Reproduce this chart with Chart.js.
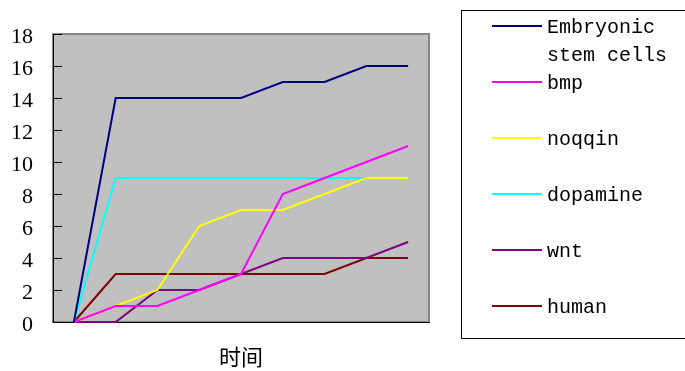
<!DOCTYPE html>
<html>
<head>
<meta charset="utf-8">
<script src="https://cdn.jsdelivr.net/npm/chart.js@4.4.1/dist/chart.umd.min.js"></script>
<style>
html,body{margin:0;padding:0;background:#fff;}
#wrap{width:685px;height:371px;position:relative;}
</style>
</head>
<body>
<div id="wrap"><canvas id="c" width="685" height="371"></canvas></div>
<script>
const categories = ['1','2','3','4','5','6','7','8','9'];
const embryonic = [0,14,14,14,14,15,15,16,16];
const bmp       = [0,1,1,2,3,8,9,10,11];
const noqqin    = [0,1,2,6,7,7,8,9,9];
const dopamine  = [0,9,9,9,9,9,9,9,9];
const wnt       = [0,0,2,2,3,4,4,4,5];
const human     = [0,3,3,3,3,3,3,4,4];
const seriesNames = ['Embryonic stem cells','bmp','noqqin','dopamine','wnt','human'];
const seriesColors = ['#000080','#FF00FF','#FFFF00','#00FFFF','#800080','#800000'];
const yTicks = [0,2,4,6,8,10,12,14,16,18];
const xTitle = '时间';

const seriesData = [embryonic,bmp,noqqin,dopamine,wnt,human];

const plotFrame = {
  id:'plotFrame',
  beforeDraw(chart){
    const {ctx, chartArea:a} = chart;
    ctx.save();
    ctx.fillStyle = '#C0C0C0';
    ctx.fillRect(a.left, a.top, a.right-a.left, a.bottom-a.top);
    ctx.strokeStyle = '#868686';
    ctx.lineWidth = 2;
    ctx.strokeRect(a.left, a.top, a.right-a.left, a.bottom-a.top);
    ctx.restore();
  },
  beforeDatasetsDraw(chart){
    const {ctx, chartArea:a, scales} = chart;
    const y = scales.y;
    ctx.save();
    ctx.strokeStyle = '#000';
    ctx.lineWidth = 1;
    y.ticks.forEach(t=>{
      const py = Math.round(y.getPixelForValue(t.value)) + 0.5;
      ctx.beginPath();
      ctx.moveTo(a.left, py);
      ctx.lineTo(a.left + 9, py);
      ctx.stroke();
    });
    ctx.restore();
  }
};

const customLegend = {
  id:'customLegend',
  afterDraw(chart){
    const ctx = chart.ctx;
    ctx.save();
    ctx.strokeStyle = '#000';
    ctx.lineWidth = 1;
    ctx.strokeRect(461.5, 10.5, 240, 328);
    ctx.font = '20px "Liberation Mono", monospace';
    ctx.textBaseline = 'middle';
    ctx.fillStyle = '#000';
    const maxW = 130;
    chart.data.datasets.forEach((ds,i)=>{
      const y0 = 26 + i*56;
      ctx.strokeStyle = ds.borderColor;
      ctx.lineWidth = 2;
      ctx.beginPath();
      ctx.moveTo(492, y0);
      ctx.lineTo(542, y0);
      ctx.stroke();
      const words = ds.label.split(' ');
      const lines = [];
      let cur = '';
      words.forEach(w=>{
        const test = cur ? cur + ' ' + w : w;
        if (ctx.measureText(test).width > maxW && cur) { lines.push(cur); cur = w; }
        else cur = test;
      });
      if (cur) lines.push(cur);
      lines.forEach((ln,j)=>{
        ctx.fillText(ln, 547, y0 + 2 + j*28);
      });
    });
    ctx.restore();
  }
};

new Chart(document.getElementById('c'), {
  type:'line',
  data:{
    labels: categories,
    datasets: seriesNames.map((n,i)=>({
      label:n,
      data:seriesData[i],
      borderColor:seriesColors[i],
      backgroundColor:seriesColors[i],
      borderWidth:2,
      pointRadius:0,
      tension:0,
      fill:false,
      clip:false
    }))
  },
  options:{
    responsive:false,
    animation:false,
    layout:{padding:{top:34,right:256,left:0,bottom:0}},
    plugins:{legend:{display:false},tooltip:{enabled:false}},
    scales:{
      x:{
        type:'category',
        offset:true,
        grid:{display:false},
        border:{display:true,color:'#000',width:1},
        ticks:{display:false},
        title:{display:true,text:xTitle,color:'#000',
          font:{family:'"Noto Sans CJK SC", sans-serif',size:22},padding:{top:0,bottom:1}},
        afterFit(s){ s.height = 49; }
      },
      y:{
        min:0,max:18,
        afterBuildTicks(s){ s.ticks = yTicks.map(v=>({value:v})); },
        grid:{drawOnChartArea:false,drawTicks:false},
        border:{display:true,color:'#000',width:1},
        ticks:{color:'#000',padding:20,labelOffset:3,
          font:{family:'"Liberation Serif", serif',size:22}},
        afterFit(s){ s.width = 53; }
      }
    }
  },
  plugins:[plotFrame, customLegend]
});
</script>
</body>
</html>
